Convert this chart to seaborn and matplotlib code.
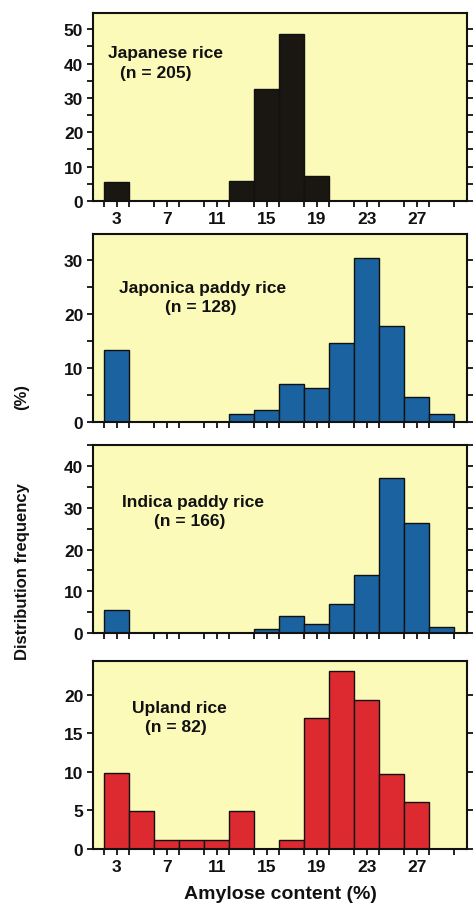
import numpy as np
import matplotlib
matplotlib.use("Agg")
import matplotlib.pyplot as plt
import seaborn as sns
from matplotlib.ticker import MultipleLocator

# bin centres (amylose content, %), bins are 2 % wide
centres = [3, 5, 7, 9, 11, 13, 15, 17, 19, 21, 23, 25, 27, 29]
bin_edges = [2, 4, 6, 8, 10, 12, 14, 16, 18, 20, 22, 24, 26, 28, 30]

japanese = [5.5, 0, 0, 0, 0, 5.9, 32.5, 48.7, 7.3, 0, 0, 0, 0, 0]
japonica_paddy = [13.4, 0, 0, 0, 0, 1.5, 2.3, 7.0, 6.3, 14.7, 30.4, 17.9, 4.6, 1.5]
indica_paddy = [5.4, 0, 0, 0, 0, 0, 1.0, 4.0, 2.1, 7.0, 13.8, 37.1, 26.3, 1.4]
upland = [9.8, 4.9, 1.2, 1.2, 1.2, 4.9, 0, 1.2, 17.0, 23.1, 19.4, 9.7, 6.1, 0]

names = ["Japanese rice", "Japonica paddy rice", "Indica paddy rice", "Upland rice"]
counts = ["(n = 205)", "(n = 128)", "(n = 166)", "(n = 82)"]
x_labels = ["3", "7", "11", "15", "19", "23", "27"]

sns.set_theme(style="ticks")
plt.rcParams['font.family'] = ['Liberation Sans', 'DejaVu Sans']
plt.rcParams['font.weight'] = 'bold'

bg = '#fbfab8'
colors = ['#1a1612', '#1a62a0', '#1a62a0', '#dc2a30']
series = [japanese, japonica_paddy, indica_paddy, upland]
ylims = [54.7, 34.9, 45.1, 24.4]
ymajor = [10, 10, 10, 5]
yminor = [5, 5, 5, None]
text_pos = [((0.195, 0.79), (0.168, 0.686)),
            ((0.293, 0.718), (0.288, 0.612)),
            ((0.267, 0.702), (0.259, 0.60)),
            ((0.232, 0.755), (0.222, 0.65))]
# panel boxes in pixels (top, bottom)
boxes = [(14, 202), (235, 423), (446, 634), (662, 850)]

W, H = 473, 912
fig = plt.figure(figsize=(W / 100, H / 100), dpi=100)
left, right = 93 / W, 467 / W

for i in range(4):
    top, bot = boxes[i]
    ax = fig.add_axes([left, 1 - bot / H, right - left, (bot - top) / H])
    ax.set_facecolor(bg)
    sns.histplot(x=centres, weights=series[i], bins=bin_edges, ax=ax,
                 color=colors[i], edgecolor='#111111', linewidth=1.0, alpha=1)
    ax.set_xlim(1.1, 31)
    ax.set_ylim(0, ylims[i])
    ax.set_xticks([3, 7, 11, 15, 19, 23, 27])
    ax.xaxis.set_minor_locator(MultipleLocator(2))
    ax.yaxis.set_major_locator(MultipleLocator(ymajor[i]))
    if yminor[i]:
        ax.yaxis.set_minor_locator(MultipleLocator(yminor[i]))
    ax.tick_params(axis='both', which='both', direction='out', width=1.3,
                   length=4, colors='#111111')
    ax.tick_params(axis='y', which='both', right=True, labelright=False)
    ax.tick_params(axis='y', labelsize=12.5, pad=3)
    ax.tick_params(axis='x', labelsize=12.5, pad=3)
    for lab in ax.get_yticklabels():
        lab.set_fontweight('bold')
    if i in (0, 3):
        ax.set_xticklabels(x_labels, fontweight='bold')
    else:
        ax.set_xticklabels([])
    for s in ax.spines.values():
        s.set_visible(True)
        s.set_linewidth(1.5)
        s.set_color('#111111')
    ax.set_xlabel('')
    ax.set_ylabel('')
    (tx1, ty1), (tx2, ty2) = text_pos[i]
    ax.text(tx1, ty1, names[i], transform=ax.transAxes, ha='center',
            va='center', fontsize=12.5, fontweight='bold', color='#111111')
    ax.text(tx2, ty2, counts[i], transform=ax.transAxes, ha='center',
            va='center', fontsize=12.5, fontweight='bold', color='#111111')
    if i == 3:
        ax.set_xlabel('Amylose content (%)', fontsize=14, fontweight='bold',
                      labelpad=8, color='#111111')

fig.text(22 / W, 1 - 572 / H, 'Distribution frequency', rotation=90,
         ha='center', va='center', fontsize=12, fontweight='bold', color='#111111')
fig.text(22 / W, 1 - 397 / H, '(%)', rotation=90,
         ha='center', va='center', fontsize=12, fontweight='bold', color='#111111')

fig.savefig('out.png', dpi=100, facecolor='white')
